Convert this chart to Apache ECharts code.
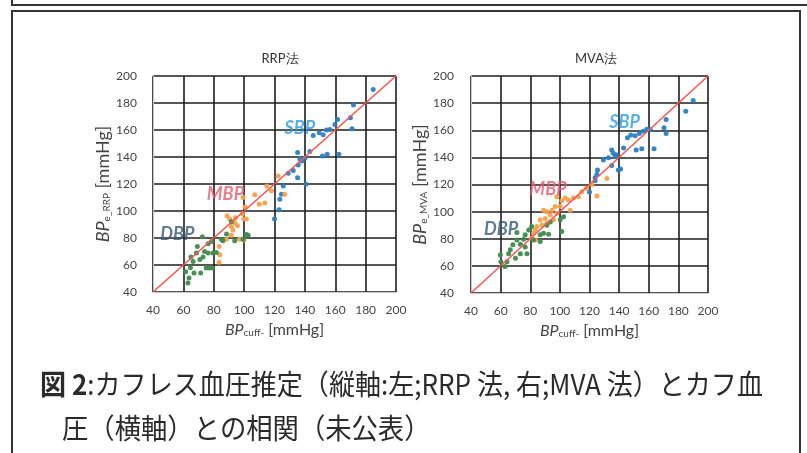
<!DOCTYPE html>
<html><head><meta charset="utf-8">
<script src="https://cdn.jsdelivr.net/npm/echarts@6/dist/echarts.min.js"></script>
<style>html,body{margin:0;padding:0;background:#fff;}#c{width:807px;height:453px;}</style>
</head><body><div id="c"></div>
<script>
// ---- data ----
const chartTitles = ['RRP法', 'MVA法'];
const yNameSubs = ['e_RRP', 'e_MVA'];
const axisTicks = [40, 60, 80, 100, 120, 140, 160, 180, 200];
const identityLine = [[40, 40], [200, 200]];

const rrpSBP = [[185,190],[172,178.6],[170,169],[171,161],[161.5,167.8],[159.8,164],[156.5,160.4],[154.3,160],[149.4,158],[145.5,156],[152,156.4],[154.7,142],[151.6,140.7],[162.4,142],[143.3,144],[135.2,143.4],[136.7,138.5],[135.6,134],[132.3,130],[129,128],[135.2,124.7],[140.7,119.8],[125.7,118.5],[124.6,112.4],[123.5,108.7],[123,101],[120,94],[138,137],[140,139]];
const rrpMBP = [[122.4,126],[115,118.5],[107,112],[113.6,106],[110,105],[99.3,110],[100.7,103],[94.3,95],[90.5,94],[88.8,96.4],[93.8,91.4],[95.6,89],[99.8,94],[101.5,94],[91.6,88.5],[92.7,86],[91.6,82],[97,79],[99.8,78.6],[88.4,79],[83.5,73.7],[84,67.6],[83.5,62],[98.9,98],[126.8,112.4],[118,115]];
const rrpDBP = [[63,46.7],[63.7,50.3],[61.5,55],[64.6,58],[66.4,62.6],[65,66],[68.6,68.8],[70.8,64],[73,66],[74,70],[76.3,68.8],[71.4,54],[75,57.7],[77,57.7],[79,57.7],[79.5,68.8],[81.7,69.3],[76.3,75.7],[78.5,77.4],[72.5,81],[85,79],[86,78],[88.4,83],[91.6,92],[93.8,78],[99.3,79],[102.6,82],[101.5,82.6],[69.2,73.7],[67,54]];

const mvaSBP = [[190,182],[185,174],[171.7,168],[170.3,161.8],[171.7,157.6],[161,160.6],[158.7,160.8],[156.4,159.3],[153.7,157.6],[150.8,156],[147.9,156.5],[145.6,154.4],[163.6,146.3],[155.3,146.3],[151.5,145.4],[143,147],[135,145.4],[137.3,140.4],[132.8,139.7],[129.4,138],[135,134],[139.5,130.7],[141,131.5],[125.4,130.7],[125,127.5],[123.8,125],[120,114.5],[123.8,122.7],[136,143],[138,142]];
const mvaMBP = [[125,111.5],[131.7,124.5],[121.6,120],[118,117],[114.8,114.7],[112.6,111],[109.2,110],[105.8,108.6],[103.6,110],[101.3,108],[98,111],[100.2,103.7],[107,101],[96.9,103.7],[94.6,101],[91.2,100],[89,101],[98,98.8],[93.5,97.5],[90.1,95],[86.7,93.9],[84.5,89],[83.4,86.5],[82.2,84],[81,80.4],[83.4,79],[87.9,90],[91.2,91.4],[95.7,94]];
const mvaDBP = [[59.8,68],[60.2,63],[63,59.6],[64.3,63],[65.4,69],[66.5,71.8],[70,65.7],[68.3,75.5],[71,79],[71,84.6],[73.3,76],[75.5,79.7],[76.6,74],[77.8,69],[73.3,69],[79,86.5],[76.6,83],[82.2,79],[86.7,83],[89,84],[92.4,83.3],[91.2,90],[100.2,94],[102.5,96.3],[101.3,85.3],[93.5,92.4],[86.7,78],[81,89]];

// in-plot group labels: [text, x, y] in data units
const rrpLabels = [['SBP', 136.7, 161.4], ['MBP', 87.7, 112.6], ['DBP', 56, 83]];
const mvaLabels = [['SBP', 143.7, 166], ['MBP', 92, 116.7], ['DBP', 60.3, 87]];

const captionLine1 = ['図 2', ':カフレス血圧推定（縦軸:左;RRP 法, 右;MVA 法）とカフ血'];
const captionLine2 = '圧（横軸）との相関（未公表）';

// ---- styles ----
const COL = { SBP: '#2a7fc0', MBP: '#f5a04c', DBP: '#3f8a4c' };
const LCOL = { SBP: '#2e9be2', MBP: '#e25a70', DBP: '#3b5878' };
const FONT = 'Lato, "Open Sans", sans-serif';
const CJK = '"Noto Sans CJK JP"';

const chart = echarts.init(document.getElementById('c'), null, { renderer: 'canvas' });

function nameRich(mainSize, subSize, lh) {
  return {
    b: { fontStyle: 'italic', fontSize: mainSize, color: '#444', fontFamily: FONT, lineHeight: lh, verticalAlign: 'bottom' },
    s: { fontSize: subSize, color: '#444', fontFamily: FONT, lineHeight: lh, verticalAlign: 'bottom', padding: [5, 0, 0, 0] },
    n: { fontSize: mainSize, color: '#444', fontFamily: FONT, lineHeight: lh, verticalAlign: 'bottom' }
  };
}
function xAxis(gi) {
  return {
    gridIndex: gi, type: 'value', min: 40, max: 200, interval: 20,
    axisLine: { show: true, onZero: false, lineStyle: { color: '#c8c8c8', width: 1 } },
    axisTick: { show: false },
    splitLine: { show: true, lineStyle: { color: '#1e1e1e', width: 1.6 } },
    axisLabel: { color: '#444', fontSize: 12, fontFamily: FONT, margin: 12 },
    name: '{b|BP}{s|cuff-}{n| [mmHg]}', nameLocation: 'middle', nameGap: 28,
    nameTextStyle: { rich: nameRich(16, 10, 18) }
  };
}
function yAxis(gi) {
  return {
    gridIndex: gi, type: 'value', min: 40, max: 200, interval: 20,
    axisLine: { show: true, onZero: false, lineStyle: { color: '#c8c8c8', width: 1 } },
    axisTick: { show: false },
    splitLine: { show: true, lineStyle: { color: '#1e1e1e', width: 1.6 } },
    axisLabel: { color: '#444', fontSize: 12, fontFamily: FONT, margin: gi === 0 ? 16 : 17 },
    name: '{b|BP}{s|' + yNameSubs[gi] + '}{n| [mmHg]}', nameLocation: 'middle', nameGap: gi === 0 ? 32 : 38, nameRotate: 90,
    nameTextStyle: { rich: nameRich(18, 10, 20) }
  };
}
function scatter(gi, name, data) {
  return {
    type: 'scatter', xAxisIndex: gi, yAxisIndex: gi, data: data, symbolSize: 5,
    itemStyle: { color: COL[name], opacity: 0.95 }, z: 3, silent: true
  };
}
function labels(gi, arr) {
  return {
    type: 'scatter', xAxisIndex: gi, yAxisIndex: gi, symbolSize: 0, z: 5, silent: true,
    data: arr.map(a => ({ value: [a[1], a[2]], name: a[0],
      label: { show: true, position: 'inside', formatter: a[0], color: LCOL[a[0]], fontSize: 18,
        fontStyle: 'italic', fontWeight: 'bold', fontFamily: FONT } }))
  };
}
function diag(gi) {
  return {
    type: 'line', xAxisIndex: gi, yAxisIndex: gi, data: identityLine, symbol: 'none', silent: true,
    lineStyle: { color: '#f25a58', width: 1.6 }, z: 4
  };
}

const option = {
  backgroundColor: '#fff',
  animation: false,
  title: [
    { text: chartTitles[0], left: 275, top: 47, textAlign: 'center', textStyle: { fontSize: 13, fontWeight: 'normal', color: '#333', fontFamily: FONT } },
    { text: chartTitles[1], left: 591, top: 47, textAlign: 'center', textStyle: { fontSize: 13, fontWeight: 'normal', color: '#333', fontFamily: FONT } }
  ],
  grid: [
    { left: 153, top: 76, width: 243, height: 216 },
    { left: 471, top: 76, width: 237, height: 217 }
  ],
  xAxis: [xAxis(0), xAxis(1)],
  yAxis: [yAxis(0), yAxis(1)],
  series: [
    scatter(0, 'SBP', rrpSBP), scatter(0, 'MBP', rrpMBP), scatter(0, 'DBP', rrpDBP), diag(0), labels(0, rrpLabels),
    scatter(1, 'SBP', mvaSBP), scatter(1, 'MBP', mvaMBP), scatter(1, 'DBP', mvaDBP), diag(1), labels(1, mvaLabels)
  ],
  graphic: [
    { type: 'rect', shape: { x: 12, y: -20, width: 800, height: 25 }, style: { fill: 'none', stroke: '#333', lineWidth: 2 }, silent: true },
    { type: 'rect', shape: { x: 12, y: 11, width: 788, height: 460 }, style: { fill: 'none', stroke: '#333', lineWidth: 2 }, silent: true },
    { type: 'text', left: 40, top: 370, silent: true, scaleX: 0.93,
      style: { text: '{bb|' + captionLine1[0] + '}{r|' + captionLine1[1] + '}',
        rich: {
          bb: { fontSize: 28, fontWeight: 'bold', fill: '#2a2a2a', fontFamily: CJK },
          r: { fontSize: 28, fill: '#2a2a2a', fontFamily: CJK }
        } } },
    { type: 'text', left: 62, top: 414, silent: true, scaleX: 0.94,
      style: { text: captionLine2, fontSize: 28, fill: '#2a2a2a', fontFamily: CJK } }
  ]
};
chart.setOption(option);
</script></body></html>
